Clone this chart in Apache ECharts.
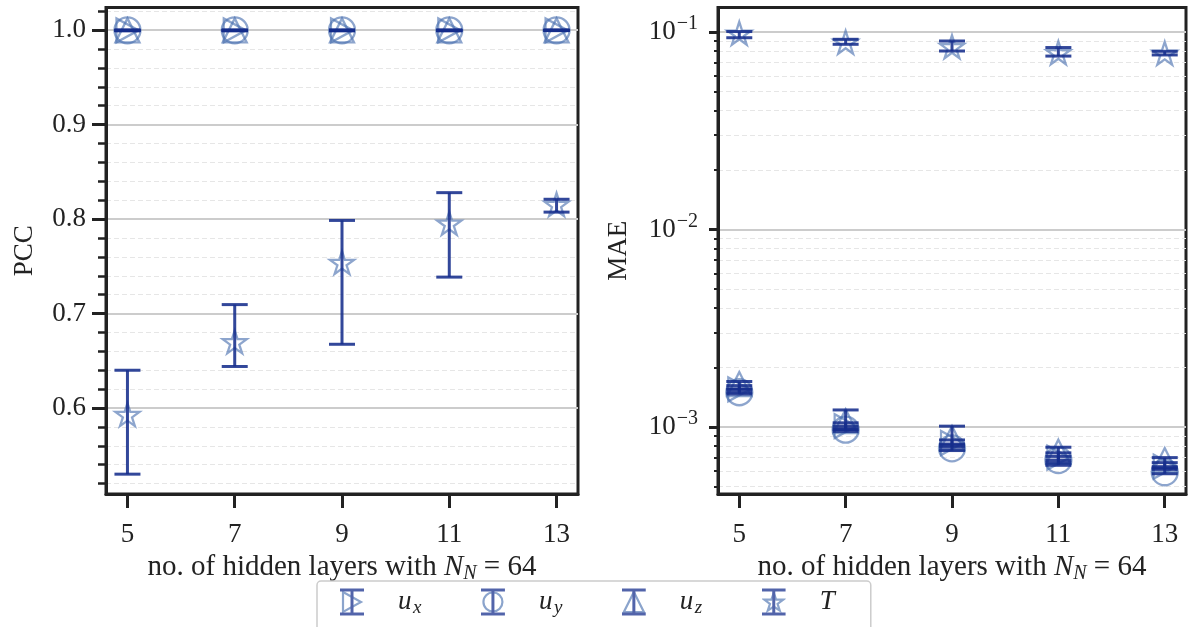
<!DOCTYPE html>
<html><head><meta charset="utf-8">
<script src="https://cdn.jsdelivr.net/npm/echarts@6/dist/echarts.min.js"></script>
<style>html,body{margin:0;padding:0;background:#fff}#c{width:1188px;height:627px}</style>
</head><body><div id="c"></div>
<script>
// ---------- data ----------
const layers = [5, 7, 9, 11, 13];
const xTicks = [5, 7, 9, 11, 13];
const pccTicks = [0.6, 0.7, 0.8, 0.9, 1.0];
const pccMinorTicks = [0.52, 0.54, 0.56, 0.58, 0.62, 0.64, 0.66, 0.68, 0.72, 0.74, 0.76, 0.78, 0.82, 0.84, 0.86, 0.88, 0.92, 0.94, 0.96, 0.98, 1.02];
const maeTicks = [0.001, 0.01, 0.1];
const maeMinorTicks = [0.0005, 0.0006, 0.0007, 0.0008, 0.0009, 0.002, 0.003, 0.004, 0.005, 0.006, 0.007, 0.008, 0.009, 0.02, 0.03, 0.04, 0.05, 0.06, 0.07, 0.08, 0.09];

// PCC (left panel)
const pccUx = [0.9998, 0.9998, 0.9998, 0.9998, 0.9998];
const pccUxLo = [0.9995, 0.9995, 0.9995, 0.9995, 0.9996];
const pccUxHi = [1.0, 1.0, 1.0, 1.0, 1.0];
const pccUy = [0.9998, 0.9998, 0.9998, 0.9998, 0.9998];
const pccUyLo = [0.9995, 0.9995, 0.9995, 0.9995, 0.9996];
const pccUyHi = [1.0, 1.0, 1.0, 1.0, 1.0];
const pccUz = [0.9998, 0.9998, 0.9998, 0.9998, 0.9998];
const pccUzLo = [0.9995, 0.9995, 0.9995, 0.9995, 0.9996];
const pccUzHi = [1.0, 1.0, 1.0, 1.0, 1.0];
const pccT = [0.593, 0.670, 0.754, 0.7955, 0.8155];
const pccTLo = [0.530, 0.644, 0.6675, 0.7386, 0.8074];
const pccTHi = [0.640, 0.7095, 0.7986, 0.828, 0.821];

// MAE (right panel)
const maeUx = [0.00155, 0.00101, 0.00083, 0.00070, 0.00063];
const maeUxLo = [0.00150, 0.00097, 0.00079, 0.00066, 0.00061];
const maeUxHi = [0.00162, 0.00105, 0.00086, 0.00074, 0.00066];
const maeUy = [0.00150, 0.00097, 0.00078, 0.00068, 0.00059];
const maeUyLo = [0.00147, 0.00095, 0.00076, 0.00064, 0.00058];
const maeUyHi = [0.00156, 0.00101, 0.00081, 0.00071, 0.00062];
const maeUz = [0.00165, 0.00107, 0.00088, 0.00075, 0.00068];
const maeUzLo = [0.00155, 0.00098, 0.00082, 0.00068, 0.00063];
const maeUzHi = [0.00170, 0.00122, 0.00101, 0.00079, 0.00070];
const maeT = [0.0985, 0.0887, 0.0842, 0.0785, 0.0780];
const maeTLo = [0.0935, 0.0866, 0.0801, 0.0755, 0.0765];
const maeTHi = [0.1005, 0.0918, 0.0900, 0.0834, 0.0798];

const seriesNames = ['ux', 'uy', 'uz', 'T'];

// ---------- styles ----------
const FONT = 'Liberation Serif';
const C_MARK = 'rgba(76,114,176,0.8)';
const C_BAR = 'rgba(22,46,140,0.88)';
const C_AXIS = '#222222';
const STAR = 'path://M50,2 L61.2,36.6 L97.6,36.6 L68.2,58 L79.4,92.6 L50,71.2 L20.6,92.6 L31.8,58 L2.4,36.6 L38.8,36.6 Z';
const markerDef = {
  ux: {symbol: 'triangle', rotate: -90, size: [24, 22]},
  uy: {symbol: 'circle', rotate: 0, size: 26},
  uz: {symbol: 'triangle', rotate: 0, size: [24, 24]},
  T:  {symbol: STAR, rotate: 0, size: 24}
};

function svgIcon(shape) {
  const mk = 'fill="none" stroke="rgb(111,142,192)" stroke-width="2.2"';
  let m = '';
  if (shape === 'ux') m = '<polygon points="3,4 21,14 3,24" ' + mk + '/>';
  if (shape === 'uy') m = '<circle cx="12" cy="14" r="9.5" ' + mk + '/>';
  if (shape === 'uz') m = '<polygon points="12,4 22,24 2,24" ' + mk + '/>';
  if (shape === 'T') m = '<polygon points="12,5 14.4,11.6 21.5,11.6 15.8,15.8 18,22.6 12,18.5 6,22.6 8.2,15.8 2.5,11.6 9.6,11.6" ' + mk + '/>';
  const bar = 'stroke="rgb(40,62,150)" stroke-width="3"';
  const svg = '<svg xmlns="http://www.w3.org/2000/svg" width="24" height="28" viewBox="0 0 24 28">' + m +
    '<line x1="12" y1="2" x2="12" y2="26" ' + bar + '/>' +
    '<line x1="0" y1="2" x2="24" y2="2" ' + bar + '/>' +
    '<line x1="0" y1="26" x2="24" y2="26" ' + bar + '/>' + '</svg>';
  return 'image://data:image/svg+xml;utf8,' + encodeURIComponent(svg);
}

function pts(ys) { return layers.map((x, i) => [x, ys[i]]); }
function bars(lo, hi) { return layers.map((x, i) => [x, lo[i], hi[i]]); }

function errRender(params, api) {
  const x = api.value(0);
  const pLo = api.coord([x, api.value(1)]);
  const pHi = api.coord([x, api.value(2)]);
  const hw = 13;
  const st = {stroke: C_BAR, lineWidth: 3, fill: null};
  return {type: 'group', children: [
    {type: 'line', shape: {x1: pLo[0], y1: pLo[1], x2: pHi[0], y2: pHi[1]}, style: st},
    {type: 'line', shape: {x1: pLo[0] - hw, y1: pLo[1], x2: pLo[0] + hw, y2: pLo[1]}, style: st},
    {type: 'line', shape: {x1: pHi[0] - hw, y1: pHi[1], x2: pHi[0] + hw, y2: pHi[1]}, style: st}
  ]};
}

const panelData = [
  {ux: [pccUx, pccUxLo, pccUxHi], uy: [pccUy, pccUyLo, pccUyHi], uz: [pccUz, pccUzLo, pccUzHi], T: [pccT, pccTLo, pccTHi]},
  {ux: [maeUx, maeUxLo, maeUxHi], uy: [maeUy, maeUyLo, maeUyHi], uz: [maeUz, maeUzLo, maeUzHi], T: [maeT, maeTLo, maeTHi]}
];

const series = [];
panelData.forEach((pd, gi) => {
  seriesNames.forEach(n => {
    const d = markerDef[n];
    series.push({
      type: 'scatter', name: n, xAxisIndex: gi, yAxisIndex: gi * 2,
      data: pts(pd[n][0]), symbol: d.symbol, symbolSize: d.size, symbolRotate: d.rotate,
      symbolKeepAspect: true,
      itemStyle: {color: 'rgba(0,0,0,0)', borderColor: C_MARK, borderWidth: 2.3},
      emphasis: {disabled: true}, z: 3, silent: true, animation: false
    });
    series.push({
      type: 'custom', name: n, xAxisIndex: gi, yAxisIndex: gi * 2,
      data: bars(pd[n][1], pd[n][2]), renderItem: errRender,
      encode: {x: 0, y: [1, 2]}, z: 4, silent: true, animation: false
    });
  });
});

const tickFont = {fontFamily: FONT, fontSize: 27, color: '#222'};
const richX = {
  t: {fontFamily: FONT, fontSize: 29, color: '#222'},
  i: {fontFamily: FONT, fontSize: 29, fontStyle: 'italic', color: '#222'},
  s: {fontFamily: FONT, fontSize: 20, fontStyle: 'italic', color: '#222', padding: [12, 0, 0, 0]}
};
const xName = '{t|no. of hidden layers with }{i|N}{s|N}{t| = 64}';

function xAxisCfg(gi) {
  return {
    type: 'value', gridIndex: gi, min: 4.6, max: 13.4,
    name: xName, nameLocation: 'middle', nameGap: 55,
    nameTextStyle: {rich: richX},
    axisLine: {show: true, lineStyle: {color: C_AXIS, width: 3}},
    axisTick: {show: true, customValues: xTicks, length: 14, lineStyle: {color: C_AXIS, width: 3}},
    axisLabel: {customValues: xTicks, margin: 27, ...tickFont},
    splitLine: {show: false}
  };
}

const option = {
  backgroundColor: '#fff',
  animation: false,
  grid: [
    {left: 106, top: 7.5, width: 472, height: 486.5, show: true, borderColor: C_AXIS, borderWidth: 3, backgroundColor: 'transparent'},
    {left: 718, top: 7.5, width: 468, height: 486.5, show: true, borderColor: C_AXIS, borderWidth: 3, backgroundColor: 'transparent'}
  ],
  xAxis: [xAxisCfg(0), xAxisCfg(1)],
  yAxis: [
    {
      type: 'value', gridIndex: 0, min: 0.509, max: 1.024, position: 'left',
      name: 'PCC', nameLocation: 'middle', nameGap: 68, nameRotate: 90,
      nameTextStyle: {fontFamily: FONT, fontSize: 27, color: '#222'},
      axisLine: {show: true, lineStyle: {color: C_AXIS, width: 3}},
      axisTick: {show: true, customValues: pccTicks, length: 14, lineStyle: {color: C_AXIS, width: 3}},
      axisLabel: {customValues: pccTicks, margin: 20, formatter: v => v.toFixed(1), ...tickFont},
      splitLine: {show: true, lineStyle: {color: '#cccccc', width: 2}}, z: 2
    },
    {
      type: 'value', gridIndex: 0, min: 0.509, max: 1.024, position: 'left',
      axisLine: {show: false},
      axisTick: {show: true, customValues: pccMinorTicks, length: 8, lineStyle: {color: C_AXIS, width: 2.5}},
      axisLabel: {show: false},
      splitLine: {show: true, lineStyle: {color: '#e6e6e6', width: 1, type: [5, 3]}}, z: 1
    },
    {
      type: 'log', logBase: 10, gridIndex: 1, min: 0.000458, max: 0.133, position: 'left',
      name: 'MAE', nameLocation: 'middle', nameGap: 86, nameRotate: 90,
      nameTextStyle: {fontFamily: FONT, fontSize: 27, color: '#222'},
      axisLine: {show: true, lineStyle: {color: C_AXIS, width: 3}},
      axisTick: {show: true, customValues: maeTicks, length: 9, lineStyle: {color: C_AXIS, width: 3}},
      axisLabel: {
        customValues: maeTicks, margin: 20,
        formatter: v => '{b|10}{e|\u2212' + (-Math.round(Math.log10(v))) + '}',
        rich: {
          b: {fontFamily: FONT, fontSize: 27, color: '#222'},
          e: {fontFamily: FONT, fontSize: 20, color: '#222', padding: [0, 0, 16, 1]}
        }
      },
      splitLine: {show: true, lineStyle: {color: '#cccccc', width: 2}}, z: 2
    },
    {
      type: 'log', logBase: 10, gridIndex: 1, min: 0.000458, max: 0.133, position: 'left',
      axisLine: {show: false},
      axisTick: {show: true, customValues: maeMinorTicks, length: 4, lineStyle: {color: C_AXIS, width: 2}},
      axisLabel: {show: false},
      splitLine: {show: true, lineStyle: {color: '#e6e6e6', width: 1, type: [5, 3]}}, z: 1
    }
  ],
  legend: {
    left: 317, top: 581, orient: 'horizontal',
    data: seriesNames.map(n => ({name: n, icon: svgIcon(n)})),
    itemWidth: 24, itemHeight: 28, itemGap: 59.5,
    padding: [7, 36, 16, 23],
    borderColor: '#cccccc', borderWidth: 1.5, borderRadius: 4, backgroundColor: '#fff',
    selectedMode: false,
    formatter: n => n === 'T' ? '{t|T}' : '{i|u}{s|' + n.slice(1) + '}',
    textStyle: {
      padding: [0, 0, 0, 29],
      rich: {
        i: {fontFamily: FONT, fontSize: 27, fontStyle: 'italic', color: '#222', width: 15},
        s: {fontFamily: FONT, fontSize: 19, fontStyle: 'italic', color: '#222', width: 10, padding: [12, 0, 0, 0]},
        t: {fontFamily: FONT, fontSize: 27, fontStyle: 'italic', color: '#222', width: 17}
      }
    }
  },
  series: series
};

const chart = echarts.init(document.getElementById('c'), null, {renderer: 'canvas'});
chart.setOption(option);
</script>
</body></html>
